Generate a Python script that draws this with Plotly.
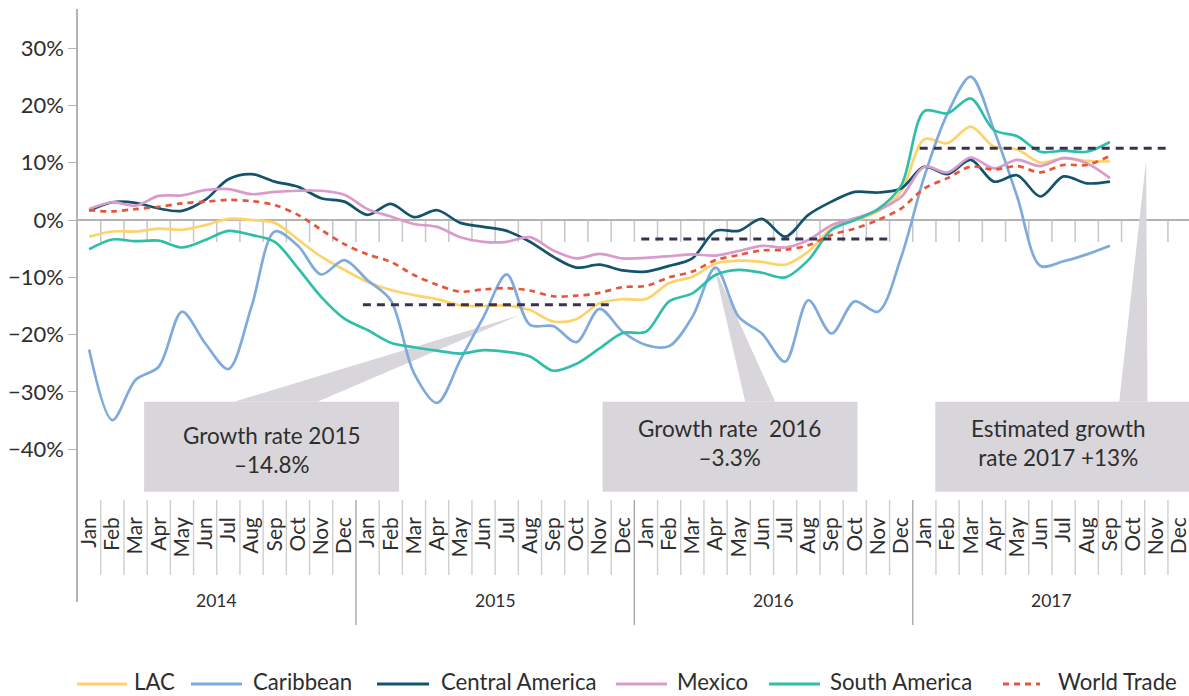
import plotly.graph_objects as go

months = ["Jan", "Feb", "Mar", "Apr", "May", "Jun", "Jul", "Aug", "Sep", "Oct", "Nov", "Dec"]
years = ["2014", "2015", "2016", "2017"]
month_labels = months * 4
n_points = 45  # Jan 2014 .. Sep 2017

lac = [-2.9, -2.0, -2.0, -1.5, -1.7, -0.9, 0.2, 0.0, -0.5, -3.4, -6.4, -8.7,
       -10.8, -12.2, -13.1, -13.8, -14.9, -15.0, -14.9, -15.7, -17.7, -17.3, -14.5, -13.8,
       -13.8, -11.0, -9.9, -7.6, -7.1, -7.3, -7.8, -5.5, -1.5, -0.1, 1.5, 5.0,
       14.1, 13.4, 16.3, 12.8, 12.3, 10.0, 10.8, 10.3, 10.2]
caribbean = [-22.6, -34.9, -27.9, -25.6, -16.0, -21.5, -26.0, -15.1, -2.0, -4.5, -9.5, -7.0,
             -10.5, -14.0, -26.7, -31.9, -24.4, -16.9, -9.5, -18.3, -18.5, -21.3, -15.5, -19.5,
             -21.8, -22.0, -16.9, -8.3, -16.9, -19.8, -24.7, -14.0, -19.8, -14.2, -16.0, -6.5,
             7.6, 18.6, 25.0, 15.7, 4.1, -8.0, -7.2, -6.0, -4.5]
central_america = [1.6, 3.1, 3.0, 2.0, 1.6, 3.5, 7.1, 8.0, 6.7, 5.8, 3.8, 3.2,
                   0.9, 2.8, 0.5, 1.7, -0.5, -1.2, -1.9, -3.8, -6.4, -8.3, -7.8, -8.8,
                   -9.0, -8.0, -6.7, -1.9, -1.9, 0.2, -2.9, 0.9, 3.2, 4.9, 4.8, 5.5,
                   9.3, 8.0, 10.5, 6.7, 7.8, 4.1, 7.6, 6.4, 6.7]
mexico = [1.9, 3.1, 2.5, 4.2, 4.3, 5.2, 5.4, 4.5, 4.9, 5.1, 5.1, 4.4,
          1.9, 0.6, -0.7, -1.2, -3.0, -3.8, -3.8, -3.0, -5.3, -6.7, -5.9, -6.7,
          -6.6, -6.3, -6.0, -6.2, -5.4, -4.5, -4.8, -3.5, -0.9, 0.3, 1.7, 4.0,
          9.3, 8.3, 10.9, 9.0, 10.5, 9.4, 10.8, 9.9, 7.3]
south_america = [-5.1, -3.4, -3.7, -3.6, -4.8, -3.5, -1.9, -2.6, -3.8, -8.4, -13.4, -17.2,
                 -19.2, -21.4, -22.2, -22.8, -23.3, -22.7, -23.0, -23.8, -26.3, -25.1, -22.4, -19.7,
                 -19.5, -14.2, -12.8, -9.6, -8.7, -9.2, -10.0, -7.0, -1.7, 0.0, 1.9, 6.0,
                 19.0, 18.6, 21.2, 15.7, 14.6, 11.9, 12.1, 11.9, 13.6]
world_trade = [1.7, 1.5, 1.9, 2.3, 2.9, 3.2, 3.5, 3.3, 2.6, 0.9, -1.7, -4.2,
               -6.0, -7.3, -9.6, -11.3, -12.5, -12.1, -11.9, -12.3, -13.3, -13.2, -12.7, -11.7,
               -11.5, -10.0, -9.0, -7.0, -6.1, -5.3, -5.2, -4.4, -2.6, -1.5, 0.0, 2.0,
               5.5, 7.3, 9.3, 8.8, 9.4, 8.3, 9.6, 9.6, 11.2]

series_names = ["LAC", "Caribbean", "Central America", "Mexico", "South America", "World Trade"]
series_values = [lac, caribbean, central_america, mexico, south_america, world_trade]
series_colors = ["#fdd36b", "#7eaadc", "#13536d", "#d99bcb", "#2fbfa9", "#e8553a"]

# annual growth reference lines: value, start month index, end month index
growth_values = [-14.8, -3.3, 12.5]
growth_start = [11.8, 23.8, 35.8]
growth_end = [22.4, 34.4, 46.4]

callout_texts = ["Growth rate 2015<br>–14.8%", "Growth rate\u00a0 2016<br>–3.3%",
                 "Estimated growth<br>rate 2017 +13%"]

y_ticks = [-40, -30, -20, -10, 0, 10, 20, 30]
y_ticktext = [("\u2212" if v < 0 else "") + f"{abs(v)}%" for v in y_ticks]

FONT = "Lato, 'Open Sans', sans-serif"
TXT = "#2e2e2e"
AX = "#b3b3b3"

W, H = 1189, 696
L_REF, T_REF, B_REF, R_REF = 78, 9, 602, 1189   # plot area in pixels
PLOT_W = R_REF - L_REF
PLOT_H = B_REF - T_REF
PX_PER_PCT = 5.733
PX_PER_MONTH = 23.2
Y_TOP = (220 - T_REF) / PX_PER_PCT
Y_BOT = -(B_REF - 220) / PX_PER_PCT
X_LO = -0.48
X_HI = X_LO + PLOT_W / PX_PER_MONTH


def paper_y(px):
    return (B_REF - px) / PLOT_H


def paper_x(px):
    return (px - L_REF) / PLOT_W


x_idx = list(range(n_points))
fig = go.Figure()
for name, vals, col in zip(series_names, series_values, series_colors):
    fig.add_trace(go.Scatter(
        x=x_idx, y=vals, name=name, mode="lines", showlegend=False,
        line=dict(color=col, width=2.7, shape="spline", smoothing=0.9,
                  dash="6px,5px" if name == "World Trade" else "solid"),
        hoverinfo="skip"))

# dummy trace so the month-label axis is drawn
fig.add_trace(go.Scatter(x=[0], y=[None], xaxis="x2", yaxis="y", showlegend=False,
                         hoverinfo="skip", mode="lines"))

shapes = []
# tick marks below zero line
for k in range(1, 48):
    shapes.append(dict(type="line", xref="x", yref="y", x0=k - 0.5, x1=k - 0.5,
                       y0=0, y1=-22 / PX_PER_PCT, line=dict(color="#c6c6c6", width=1.5),
                       layer="below"))
# month label separators
for k in range(1, 48):
    is_year = k % 12 == 0
    shapes.append(dict(type="line", xref="x", yref="paper", x0=k - 0.5, x1=k - 0.5,
                       y0=paper_y(500), y1=paper_y(625 if is_year else 575),
                       line=dict(color="#a9a9a9" if is_year else "#cfcfcf", width=1.4)))

# callout boxes and wedges (data coordinates)
box_x0 = [2.37, 22.13, 36.47]
box_x1 = [13.36, 33.12, 47.6]
box_ytop, box_ybot = -31.7, -47.4
wedge_base = [(6.25, 9.84), (28.28, 29.57), (44.4, 45.62)]
wedge_tip = [(18.54, -16.6), (26.94, -8.15), (45.56, 10.47)]
BOXC = "#d8d6db"
for i in range(3):
    (b0, b1), (tx, ty) = wedge_base[i], wedge_tip[i]
    shapes.append(dict(type="path", xref="x", yref="y",
                       path=f"M {b0},{box_ytop} L {tx},{ty} L {b1},{box_ytop} Z",
                       fillcolor=BOXC, line=dict(width=0), layer="between"))
    shapes.append(dict(type="rect", xref="x", yref="y", x0=box_x0[i], x1=box_x1[i],
                       y0=box_ybot, y1=box_ytop, fillcolor=BOXC, line=dict(width=0),
                       layer="between"))

# dashed annual growth lines
for v, s, e in zip(growth_values, growth_start, growth_end):
    shapes.append(dict(type="line", xref="x", yref="y", x0=s, x1=e, y0=v, y1=v,
                       line=dict(color="#3a3350", width=3, dash="8px,6px"), layer="above"))

annotations = []
text_cx = [7.87, 27.6, 41.8]
text_cy = [-40.2, -38.9, -38.9]
for t, cx, cy in zip(callout_texts, text_cx, text_cy):
    annotations.append(dict(text=t, x=cx, y=cy, xref="x", yref="y", showarrow=False,
                            font=dict(family=FONT, size=22.5, color=TXT), align="center"))
for j, yr in enumerate(years):
    annotations.append(dict(text=yr, x=12 * j + 5.5, y=paper_y(613), xref="x", yref="paper",
                            showarrow=False, font=dict(family=FONT, size=17.5, color=TXT)))

# legend (drawn by hand to match the original spacing)
leg_line_x0 = [77, 191, 377, 616, 769, 1003]
leg_line_x1 = [127, 242, 429, 667, 820, 1040]
leg_text_x = [132, 251, 439, 675, 828, 1056]
LEG_LINE_Y = 684
LEG_TEXT_Y = 681.5
for name, col, lx0, lx1, tx in zip(series_names, series_colors, leg_line_x0, leg_line_x1, leg_text_x):
    shapes.append(dict(type="line", xref="paper", yref="paper",
                       x0=paper_x(lx0), x1=paper_x(lx1),
                       y0=paper_y(LEG_LINE_Y), y1=paper_y(LEG_LINE_Y),
                       line=dict(color=col, width=3,
                                 dash="6px,5px" if name == "World Trade" else "solid")))
    annotations.append(dict(text=name, x=paper_x(tx), y=paper_y(LEG_TEXT_Y),
                            xref="paper", yref="paper",
                            xanchor="left", yanchor="middle", showarrow=False,
                            font=dict(family=FONT, size=22.2, color=TXT)))

fig.update_layout(
    width=W, height=H,
    margin=dict(l=L_REF, r=W - R_REF, t=T_REF, b=H - B_REF, autoexpand=False),
    paper_bgcolor="white", plot_bgcolor="white",
    font=dict(family=FONT, color=TXT),
    showlegend=False,
    xaxis=dict(range=[X_LO, X_HI], showgrid=False, zeroline=False, showticklabels=False,
               showline=False, ticks="", automargin=False),
    xaxis2=dict(overlaying="x", matches="x", anchor="free", position=paper_y(500), side="bottom",
                tickmode="array", tickvals=list(range(48)), ticktext=month_labels,
                tickangle=-90, ticks="", showline=False, showgrid=False, zeroline=False,
                automargin=False, ticklabeloverflow="allow",
                tickfont=dict(family=FONT, size=21, color=TXT), ticklabelstandoff=12),
    yaxis=dict(range=[Y_BOT, Y_TOP], tickmode="array", tickvals=y_ticks, ticktext=y_ticktext,
               showgrid=False, zeroline=True, zerolinecolor=AX, zerolinewidth=1.6,
               showline=True, linecolor=AX, linewidth=1.5, ticks="outside", ticklen=8,
               tickcolor=AX, tickwidth=1.3, automargin=False,
               tickfont=dict(family=FONT, size=22, color=TXT)),
    shapes=shapes, annotations=annotations,
)

fig.write_html("out.html", config={"displayModeBar": False},
               post_script="document.body.style.margin='0';document.body.style.overflow='hidden';")
